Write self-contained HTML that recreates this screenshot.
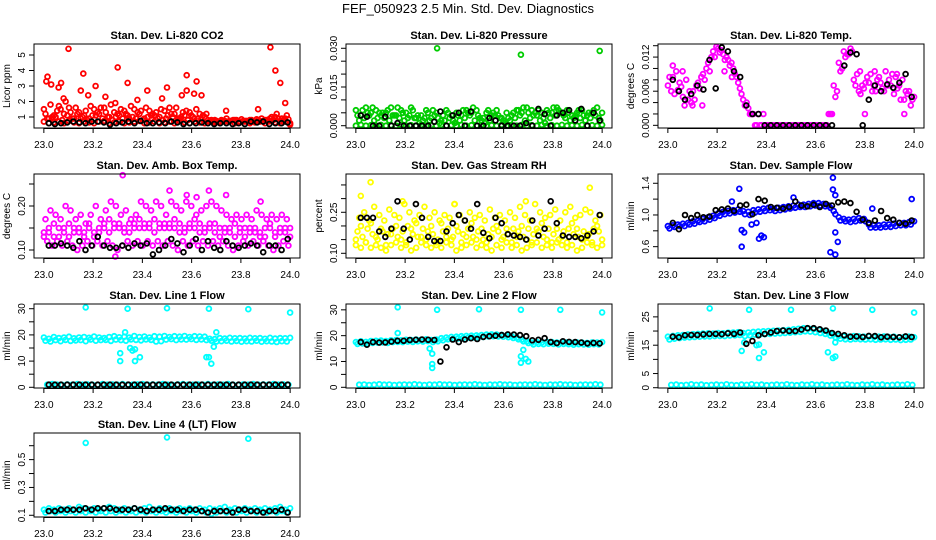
<!DOCTYPE html>
<html><head><meta charset="utf-8">
<style>
html,body{margin:0;padding:0;background:#fff;}
svg{display:block;font-family:"Liberation Sans",Arial,sans-serif;}
</style></head>
<body>
<svg id="chart" width="936" height="540" viewBox="0 0 936 540" xmlns="http://www.w3.org/2000/svg">
<rect x="0" y="0" width="936" height="540" fill="#fff"/>
<text x="468" y="13" text-anchor="middle" font-size="13">FEF_050923  2.5 Min. Std. Dev. Diagnostics</text>
</svg>
<script>
// ---- shared x tick data ----
const xTicks = [23.0, 23.2, 23.4, 23.6, 23.8, 24.0];
const xTickLabels = ["23.0", "23.2", "23.4", "23.6", "23.8", "24.0"];

// ---- Panel 1: CO2 ----
const co2Base = [0.7,0.6,0.65,0.7,0.6,0.75,0.65,0.6,0.7,0.65,0.6,0.7,0.75,0.6,0.65,0.7,0.6,0.65,0.7,0.75,0.6,0.65,0.7,0.6,0.65,0.7,0.6,0.75,0.65,0.6,0.7,0.65,0.6,0.7,0.65,0.6,0.7,0.75,0.6,0.65,0.7,0.6,0.65,0.7,0.6,0.75,0.65,0.6,0.7,0.5];
const co2Mid = [1.2,1.8,1.0,1.5,2.0,1.3,1.6,0.9,1.4,1.7,1.1,1.6,1.3,1.8,1.0,1.5,1.2,1.7,0.9,1.4,1.6,1.1,1.3,1.5,0.9,1.2,1.6,1.0,1.4,1.1,1.5,0.9,1.2,0.8,0.75,0.8,0.9,0.75,0.8,0.85,0.75,0.8,0.85,0.9,0.8,1.0,1.2,0.9,1.1,0.8];
const co2Mid2 = [0.9,1.0,1.4,0.8,1.1,0.9,1.2,1.0,0.8,1.1,1.3,0.9,1.0,0.8,1.2,0.9,1.1,1.0,1.3,0.8,1.0,1.2,0.9,0.8,1.1,1.0,0.9,1.3,0.8,1.0,0.9,1.1,0.8,0.7,0.7,0.75,0.7,0.8,0.7,0.75,0.7,0.7,0.8,0.75,0.7,0.8,0.9,0.8,0.85,0.7];
const co2Mid3 = [1.5,0.9,1.1,1.7,1.2,1.6,0.9,1.3,1.1,0.9,1.5,1.2,1.6,1.0,1.3,1.1,1.4,0.9,1.5,1.2,0.9,1.4,1.1,1.0,1.4,1.6,1.2,0.9,1.1,1.3,0.9,1.2,1.0,0.7,0.8,0.7,0.75,0.7,0.8,0.7,0.75,0.8,0.7,0.75,0.8,0.9,1.0,0.75,0.9,0.6];
const co2OutX = [23.10,23.01,23.015,23.03,23.07,23.06,23.16,23.15,23.30,23.21,23.34,23.25,23.42,23.50,23.58,23.62,23.58,23.61,23.64,23.56,23.92,23.94,23.96,23.98,23.87,23.74,23.48,23.38,23.08,23.18,23.29];
const co2OutY = [5.4,3.3,3.6,3.1,3.2,2.9,3.8,2.7,4.2,3.0,3.2,2.3,2.7,2.9,3.7,3.3,2.7,2.5,2.4,2.4,5.5,4.0,3.2,1.9,1.5,1.4,2.2,2.1,2.2,2.4,1.9];
const co2Black = [0.6,0.55,0.6,0.65,0.7,0.65,0.6,0.7,0.7,0.65,0.5,0.6,0.65,0.7,0.6,0.75,0.6,0.6,0.65,0.6,0.7,0.65,0.55,0.6,0.6,0.65,0.6,0.55,0.6,0.6,0.55,0.6,0.55,0.7,0.65,0.7,0.55,0.6,0.6,0.65];

// ---- Panel 2: Pressure ----
const presLow = [0,0.0003,0,0.0002,0,0.0003,0,0.0002,0,0.0003,0,0.0002,0,0.0003,0,0.0002,0,0.0003,0,0.0002,0,0.0003,0,0.0002,0,0.0003,0,0.0002,0,0.0003,0,0.0002,0,0.0003,0,0.0002,0,0.0003,0,0.0002,0,0.0003,0,0.0002,0,0.0003,0,0.0002,0,0.0003];
const presMid = [0.004,0.006,0.005,0.007,0.003,0.005,0.006,0.004,0.007,0.005,0.003,0.006,0.004,0.002,0.005,0.006,0.003,0.004,0.005,0.002,0.004,0.006,0.005,0.007,0.004,0.003,0.006,0.005,0.004,0.002,0.003,0.005,0.006,0.007,0.005,0.004,0.006,0.003,0.005,0.007,0.006,0.004,0.005,0.003,0.006,0.004,0.005,0.006,0.003,0.004];
const presMid2 = [0.002,0.003,0.004,0.002,0.005,0.003,0.002,0.004,0.003,0.002,0.004,0.003,0.001,0.003,0.002,0.004,0.001,0.002,0.003,0.001,0.002,0.003,0.004,0.002,0.003,0.001,0.002,0.004,0.003,0.001,0.002,0.003,0.004,0.002,0.003,0.005,0.002,0.001,0.003,0.004,0.005,0.003,0.002,0.004,0.003,0.002,0.003,0.004,0.002,0.003];
const presMid3 = [0.006,0.004,0.007,0.005,0.006,0.004,0.005,0.007,0.004,0.006,0.005,0.007,0.003,0.004,0.006,0.003,0.005,0.002,0.006,0.004,0.005,0.004,0.006,0.005,0.006,0.002,0.005,0.004,0.006,0.003,0.005,0.004,0.006,0.005,0.007,0.006,0.004,0.005,0.006,0.005,0.007,0.005,0.006,0.004,0.005,0.006,0.004,0.005,0.007,0.005];
const presOutX = [23.33,23.67,23.99];
const presOutY = [0.030,0.0275,0.029];
const presBlack = [0.004,0.0035,0,0,0.0035,0,0.001,0,0,0,0,0,0.0015,0.0055,0,0.004,0.005,0,0.0055,0,0,0.003,0.002,0,0,0,0,0.001,0,0.0065,0.0045,0,0.004,0.005,0.006,0.002,0.0065,0,0.005,0.002];

// ---- Panel 3: Li-820 Temp ----
const tempA = [0.0070,0.0085,0.0062,0.0050,0.0045,0.0060,0.0075,0.0090,0.0110,0.0130,0.0135,0.0125,0.0115,0.0100,0.0075,0.0045,0.0030,0.0020,0.0020,0.0020,0,0,0,0,0,0,0,0,0,0,0,0,0.0020,0.0070,0.0110,0.0130,0.0125,0.0080,0.0060,0.0065,0.0075,0.0070,0.0085,0.0060,0.0080,0.0055,0.0070,0.0045,0.0060,0.0050];
const tempB = [0.0085,0.0055,0.0075,0.0035,0.0060,0.0045,0.0065,0.0080,0.0095,0.0120,0.0128,0.0115,0.0105,0.0090,0.0065,0.0035,0.0020,0,0,0,0,0,0,0,0,0,0,0,0,0,0,0,0.0020,0.0050,0.0095,0.0120,0.0135,0.0070,0.0055,0.0075,0.0090,0.0060,0.0075,0.0095,0.0070,0.0085,0.0045,0.0060,0.0035,0.0075];
const tempC = [0.0060,0.0095,0.0068,0.0080,0.0040,0.0070,0.0085,0.0100,0.0120,0.0138,0.0132,0.0120,0.0110,0.0085,0.0055,0.0040,0.0020,0,0,0,0,0,0,0,0,0,0,0,0,0,0,0,0.0020,0.0060,0.0100,0.0125,0.0130,0.0090,0.0070,0.0085,0.0060,0.0080,0.0065,0.0070,0.0090,0.0065,0.0080,0.0055,0.0045,0.0065];
const tempOutX = [23.02,23.06,23.10,23.14,23.23,23.26,23.78,23.80,23.84,23.93,23.96];
const tempOutY = [0.0105,0.0095,0.0035,0.0035,0.0095,0.0085,0.0095,0.0020,0.0095,0.0090,0.0020];
const tempBlack = [0.0080,0.0060,0.0045,0.0055,0.0070,0.0063,0.0115,0.0065,0.0137,0.0130,0.0095,0.0085,0.0035,0.0020,0.0020,0,0,0,0,0,0,0,0,0,0,0,0,null,0.0105,0.0128,0.0125,0,0.0045,0.0070,0.0060,0.0072,0.0066,0.0075,0.0090,0.0050];

// ---- Panel 4: Amb Box Temp ----
const ambMain = [0.14,0.15,0.13,0.15,0.14,0.16,0.15,0.14,0.13,0.15,0.14,0.15,0.16,0.14,0.15,0.16,0.15,0.14,0.16,0.15,0.16,0.15,0.14,0.16,0.15,0.16,0.15,0.14,0.15,0.16,0.15,0.14,0.15,0.16,0.14,0.15,0.14,0.15,0.13,0.14,0.15,0.14,0.15,0.14,0.13,0.15,0.14,0.15,0.14,0.15];
const ambUp = [0.17,0.19,0.18,0.17,0.20,0.19,0.17,0.18,0.16,0.18,0.20,0.17,0.19,0.21,0.20,0.18,0.19,0.17,0.18,0.21,0.20,0.19,0.21,0.20,0.18,0.21,0.20,0.19,0.21,0.20,0.18,0.19,0.20,0.21,0.20,0.19,0.18,0.17,0.18,0.17,0.18,0.17,0.19,0.18,0.17,0.18,0.17,0.18,0.17,0.16];
const ambLow = [0.12,0.11,0.12,0.11,0.12,0.11,0.10,0.11,0.12,0.11,0.12,0.11,0.12,0.11,0.10,0.11,0.12,0.11,0.12,0.11,0.12,0.11,0.12,0.11,0.12,0.11,0.10,0.12,0.11,0.12,0.11,0.12,0.11,0.12,0.11,0.12,0.11,0.10,0.11,0.12,0.11,0.12,0.11,0.12,0.11,0.10,0.11,0.12,0.11,0.12];
const ambMid2 = [0.13,0.14,0.16,0.13,0.15,0.13,0.14,0.15,0.14,0.16,0.13,0.14,0.15,0.17,0.16,0.15,0.14,0.16,0.15,0.17,0.15,0.16,0.17,0.15,0.16,0.15,0.17,0.16,0.14,0.15,0.17,0.16,0.14,0.15,0.16,0.13,0.15,0.14,0.16,0.15,0.13,0.15,0.14,0.13,0.15,0.16,0.13,0.14,0.15,0.13];
const ambOutX = [23.32,23.51,23.67,23.58,23.74,23.29,23.62,23.88];
const ambOutY = [0.27,0.235,0.235,0.225,0.225,0.085,0.22,0.21];
const ambBlack = [0.11,0.11,0.115,0.11,0.105,0.12,0.10,0.11,0.13,0.11,0.105,0.105,0.11,0.105,0.115,0.11,0.115,0.09,0.10,0.11,0.125,0.115,0.095,0.11,0.125,0.10,0.12,0.105,0.10,0.12,0.11,0.105,0.11,0.115,0.11,0.095,0.11,0.11,0.10,0.125];

// ---- Panel 5: Gas Stream RH ----
const rhLow = [0.13,0.12,0.14,0.12,0.13,0.12,0.11,0.13,0.14,0.12,0.13,0.11,0.12,0.14,0.13,0.12,0.13,0.12,0.14,0.13,0.11,0.12,0.13,0.14,0.12,0.13,0.12,0.11,0.13,0.12,0.14,0.12,0.13,0.11,0.12,0.13,0.14,0.12,0.13,0.12,0.14,0.13,0.12,0.13,0.11,0.12,0.14,0.13,0.12,0.13];
const rhMid = [0.18,0.16,0.19,0.17,0.15,0.18,0.17,0.19,0.16,0.18,0.20,0.17,0.16,0.19,0.18,0.17,0.15,0.18,0.19,0.16,0.18,0.17,0.19,0.16,0.18,0.15,0.17,0.19,0.18,0.16,0.17,0.19,0.18,0.16,0.19,0.17,0.18,0.16,0.19,0.17,0.15,0.18,0.19,0.17,0.16,0.18,0.17,0.19,0.18,0.17];
const rhUp = [0.23,0.25,0.22,0.27,0.24,0.22,0.26,0.24,0.23,0.28,0.25,0.22,0.24,0.27,0.23,0.25,0.22,0.24,0.23,0.28,0.24,0.22,0.25,0.23,0.24,0.22,0.26,0.23,0.24,0.22,0.25,0.23,0.27,0.24,0.22,0.28,0.25,0.23,0.24,0.26,0.22,0.25,0.27,0.23,0.24,0.26,0.25,0.22,0.24,0.23];
const rhMid2 = [0.15,0.20,0.14,0.21,0.16,0.19,0.13,0.17,0.20,0.15,0.14,0.19,0.21,0.16,0.15,0.20,0.14,0.21,0.16,0.15,0.20,0.14,0.16,0.21,0.15,0.19,0.14,0.16,0.20,0.15,0.19,0.14,0.16,0.20,0.15,0.14,0.19,0.21,0.15,0.14,0.19,0.16,0.14,0.21,0.19,0.15,0.16,0.14,0.20,0.15];
const rhOutX = [23.06,23.95,23.02,23.69,23.19,23.40];
const rhOutY = [0.36,0.34,0.31,0.29,0.29,0.28];
const rhBlack = [0.23,0.23,0.23,0.18,0.16,0.19,0.29,0.19,0.15,0.28,0.23,0.16,0.145,0.145,0.18,0.21,0.24,0.22,0.19,0.28,0.175,0.155,0.23,0.21,0.17,0.165,0.16,0.15,0.22,0.165,0.19,0.29,0.21,0.165,0.16,0.16,0.155,0.165,0.18,0.24];

// ---- Panel 6: Sample Flow ----
const flowA = [0.86,0.87,0.88,0.89,0.90,0.92,0.93,0.95,0.97,0.99,1.02,1.04,1.05,1.06,1.07,1.05,1.04,1.06,1.07,1.08,1.09,1.08,1.09,1.10,1.11,1.12,1.13,1.13,1.14,1.15,1.15,1.14,1.12,1.05,0.97,0.95,0.94,0.95,0.96,0.95,0.88,0.87,0.87,0.88,0.88,0.89,0.90,0.90,0.91,0.92];
const flowB = [0.83,0.85,0.86,0.86,0.88,0.89,0.91,0.92,0.94,0.96,0.99,1.01,1.02,1.03,1.04,1.01,1.00,1.03,1.04,1.05,1.06,1.05,1.06,1.07,1.08,1.09,1.10,1.10,1.11,1.12,1.12,1.11,1.09,1.01,0.93,0.92,0.91,0.92,0.93,0.92,0.84,0.84,0.84,0.85,0.85,0.86,0.87,0.87,0.88,0.89];
const flowOutX = [23.29,23.30,23.31,23.30,23.38,23.37,23.39,23.67,23.67,23.68,23.68,23.69,23.66,23.68,23.99,23.34,23.36,23.26,23.51,23.83];
const flowOutY = [1.33,0.81,0.78,0.60,0.74,0.70,0.72,1.47,1.32,1.25,0.78,0.66,0.53,0.50,1.20,0.88,0.90,1.17,1.22,1.08];
const flowBlack = [0.90,0.82,1.00,0.96,1.00,0.97,0.98,1.06,1.07,1.08,1.05,1.12,1.13,1.01,1.20,1.18,1.10,1.09,1.08,1.10,1.17,1.12,1.11,1.13,1.10,1.14,1.12,1.16,1.17,1.15,1.04,0.94,0.90,0.93,1.05,0.96,0.94,0.90,0.89,0.93];

// ---- Panel 7: Line 1 Flow ----
const l1A = [19,18.5,19.2,18.8,19,19.3,18.7,19,19.2,18.9,19.4,19,18.8,19.2,19.5,19.1,19.3,19,19.6,19.2,19.4,19,19.5,19.3,19.6,19.2,19.5,19.3,19.6,19.2,19.5,19.4,19.3,18.5,18.4,18.8,18.6,18.9,18.7,18.8,18.6,18.9,18.7,18.8,18.5,18.9,18.6,18.8,18.7,18.9];
const l1B = [17.8,17.5,18,17.6,18.1,17.7,17.9,18,17.6,18.2,17.8,18,18.1,17.7,18.2,18,17.8,18.3,18.1,17.9,18.3,18.1,17.5,17.6,18.2,18.4,18,18.3,18.2,18.4,18.1,18.3,18,17.8,17.5,17.6,17.8,17.5,17.7,17.4,17.6,17.5,17.8,17.4,17.6,17.5,17.3,17.6,17.5,17.7];
const l1Low = [1,1.2,1,0.9,1.1,1,1.2,1,1.1,1,0.9,1.2,1,1.1,1,1.2,1,1,1.1,1.2,1,1.1,1,1.2,1,0.9,1.1,1.2,1,1,1.1,1,1.2,1,1.1,1,1.2,1,0.9,1.1,1,1.2,1,1.1,1,1.2,1,1.1,1,1.2];
const l1OutX = [23.17,23.34,23.50,23.67,23.83,24.0,23.31,23.31,23.35,23.36,23.37,23.37,23.39,23.66,23.67,23.68,23.70,23.69,23.33];
const l1OutY = [30.5,30,30.2,30,29.8,28.5,13,10,15,14,14.5,10,11.5,11.5,11.5,9,21,15.5,21];
const l1Black = [1,1,1,1,1,1,1,1,1,1,1,1,1,1,1,1,1,1,1,1,1,1,1,1,1,1,1,1,1,1,1,1,1,1,1,1,1,1,1,1];

// ---- Panel 8: Line 2 Flow ----
const l2A = [17.5,17.8,17.6,17.9,18,18.1,17.9,18.2,18.3,18.2,18.4,18.3,18.5,18.4,18.6,18.3,18.5,19,19.3,19.5,19.6,19.8,19.9,20,20.1,20.2,20.4,20.5,20.4,20.3,20.1,19.8,19.3,18.5,17.8,17.3,17.5,17.4,17.6,17.5,17.3,17.5,17.4,17.2,17.4,17.3,17.2,17.4,17.3,17.5];
const l2B = [16.8,17,16.9,17.2,17.3,17.4,17.2,17.5,17.6,17.5,17.7,17.6,17.8,17.7,17.9,17.5,17.8,18.2,18.6,18.8,18.9,19.1,19.2,19.3,19.4,19.5,19.7,19.8,19.7,19.6,19.4,19.1,18.6,17.8,17.1,16.6,16.8,16.7,16.9,16.8,16.6,16.8,16.7,16.5,16.7,16.6,16.5,16.7,16.6,16.8];
const l2Low = [1,1.1,0.9,1,1.2,1,1.1,0.9,1,1.1,1,1.2,1,0.9,1.1,1,1.2,1,1.1,0.9,1,1.1,1,1.2,1,0.9,1.1,1,1.2,1,1.1,0.9,1,1.1,1,1.2,1,0.9,1.1,1,1.2,1,1.1,0.9,1,1.1,1,1.2,1,0.9];
const l2OutX = [23.17,23.33,23.50,23.67,23.83,24.0,23.17,23.30,23.31,23.31,23.31,23.67,23.67,23.68,23.69,23.70];
const l2OutY = [31,30,30.2,30,30,29,21,15,13,9,7.5,12,9.5,14.5,11,10];
const l2Black = [17.5,16.5,17.5,17.3,17.4,17.7,18,18,18.3,18.4,18.5,18.4,18.3,10,15.5,18.5,17.5,18.5,19,18.7,19.5,19.8,20,20.2,20.5,20.4,20.2,19.8,18.2,18.4,19,17.5,17.1,17.8,17.6,17.5,17.3,17,17.2,17];

// ---- Panel 9: Line 3 Flow ----
const l3A = [18,18.3,18.5,18.6,18.8,18.9,19,19.1,19.2,19.1,19.3,19.2,19.4,19.5,19.6,19.3,19.5,19.7,19.8,19.9,20,20.1,20.2,20.3,20.4,20.6,20.8,21,20.9,20.7,20.4,20,19.4,18.8,18.3,18.1,18,18.2,18.1,18,18.1,17.9,18,18.1,17.9,18,17.8,17.9,18,17.8];
const l3B = [17,17.3,17.5,17.7,17.8,17.9,18,18.1,18.1,18.2,18.3,18.2,18.4,18.5,18.6,18.2,18.5,18.7,18.8,18.9,19,19.1,19.2,19.3,19.4,19.6,19.7,19.9,19.8,19.6,19.3,19,18.4,17.8,17.3,17.1,17,17.2,17.1,17,17.1,16.9,17,17.1,16.9,17,16.8,16.9,17,16.9];
const l3Low = [1,1.1,0.9,1,1.2,1,1.1,0.9,1,1.1,1,1.2,1,0.9,1.1,1,1.2,1,1.1,0.9,1,1.1,1,1.2,1,0.9,1.1,1,1.2,1,1.1,0.9,1,1.1,1,1.2,1,0.9,1.1,1,1.2,1,1.1,0.9,1,1.1,1,1.2,1,0.9];
const l3OutX = [23.17,23.33,23.50,23.67,23.83,24.0,23.30,23.31,23.36,23.37,23.39,23.65,23.67,23.68,23.68,23.37];
const l3OutY = [28,27.5,27.5,28,27.5,26.5,13,16,15,10.5,12.5,12.5,10.5,11,16,15.2];
const l3Black = [18,17.8,18.5,18.6,18.6,18.8,19,19,18.9,19.2,19,19.5,15.5,16.5,18.5,19,19.5,20,20.2,20,20,20.5,21,21,20.6,20.2,19.3,19,18.5,18,18.1,17.9,18.3,18.2,17.8,18,17.9,17.8,18.1,17.9];

// ---- Panel 10: Line 4 (LT) Flow ----
const l4A = [0.14,0.15,0.14,0.15,0.14,0.15,0.14,0.16,0.15,0.14,0.15,0.14,0.15,0.16,0.15,0.14,0.15,0.14,0.15,0.14,0.15,0.16,0.14,0.15,0.14,0.15,0.14,0.15,0.14,0.15,0.14,0.15,0.14,0.15,0.14,0.15,0.16,0.14,0.15,0.14,0.15,0.14,0.15,0.14,0.15,0.14,0.15,0.16,0.14,0.15];
const l4B = [0.12,0.13,0.12,0.13,0.12,0.13,0.12,0.13,0.12,0.13,0.12,0.13,0.12,0.13,0.12,0.13,0.12,0.13,0.12,0.13,0.12,0.13,0.12,0.13,0.12,0.13,0.12,0.13,0.12,0.13,0.12,0.13,0.12,0.11,0.12,0.13,0.12,0.13,0.12,0.13,0.12,0.13,0.12,0.13,0.12,0.13,0.12,0.13,0.12,0.13];
const l4OutX = [23.17,23.50,23.83];
const l4OutY = [0.62,0.66,0.65];
const l4Black = [0.13,0.13,0.14,0.14,0.14,0.14,0.15,0.14,0.15,0.15,0.15,0.14,0.14,0.14,0.15,0.14,0.13,0.14,0.14,0.15,0.14,0.14,0.13,0.14,0.14,0.13,0.12,0.13,0.13,0.13,0.12,0.14,0.14,0.13,0.13,0.12,0.13,0.13,0.14,0.12];

// ---- panel definitions ----
const SVGNS = "http://www.w3.org/2000/svg";
const svg = document.getElementById("chart");
const COLS = [34, 346, 658], ROWS = [44, 174, 304, 433], BW = 266, BH = 84;
const XMIN = 22.96, XMAX = 24.04;

const panels = [
 {name:"co2", title:"Stan. Dev. Li-820 CO2", ylab:"Licor ppm", c:0, r:0, ylim:[0.29,5.71], ticks:[1,2,3,4,5], labels:["1","2","3","4","5"], color:"#ff0000",
  series:[co2Base,co2Mid,co2Mid2,co2Mid3], outX:co2OutX, outY:co2OutY, black:co2Black},
 {name:"pressure", title:"Stan. Dev. Li-820 Pressure", ylab:"kPa", c:1, r:0, ylim:[-0.00089,0.03166], ticks:[0,0.005,0.01,0.015,0.02,0.025,0.03], labels:["0.000","","","0.015","","","0.030"], color:"#00cc00",
  series:[presLow,presMid,presMid2,presMid3], outX:presOutX, outY:presOutY, black:presBlack},
 {name:"temp", title:"Stan. Dev. Li-820 Temp.", ylab:"degrees C", c:2, r:0, ylim:[-0.00047,0.0143], ticks:[0,0.002,0.004,0.006,0.008,0.01,0.012,0.014], labels:["0.000","","","0.006","","","0.012",""], color:"#ff00ff",
  series:[tempA,tempB,tempC], outX:tempOutX, outY:tempOutY, black:tempBlack},
 {name:"amb-temp", title:"Stan. Dev. Amb. Box Temp.", ylab:"degrees C", c:0, r:1, ylim:[0.0818,0.2727], ticks:[0.1,0.15,0.2,0.25], labels:["0.10","","0.20",""], color:"#ff00ff",
  series:[ambMain,ambUp,ambLow,ambMid2], outX:ambOutX, outY:ambOutY, black:ambBlack},
 {name:"rh", title:"Stan. Dev. Gas Stream RH", ylab:"percent", c:1, r:1, ylim:[0.0828,0.39], ticks:[0.1,0.15,0.2,0.25,0.3,0.35], labels:["0.10","","","0.25","",""], color:"#ffff00",
  series:[rhLow,rhMid,rhUp,rhMid2], outX:rhOutX, outY:rhOutY, black:rhBlack},
 {name:"sample-flow", title:"Stan. Dev. Sample Flow", ylab:"ml/min", c:2, r:1, ylim:[0.457,1.517], ticks:[0.6,0.8,1.0,1.2,1.4], labels:["0.6","","1.0","","1.4"], color:"#0000ff",
  series:[flowA,flowB], outX:flowOutX, outY:flowOutY, black:flowBlack},
 {name:"line1", title:"Stan. Dev. Line 1 Flow", ylab:"ml/min", c:0, r:2, ylim:[-0.27,31.8], ticks:[0,5,10,15,20,25,30], labels:["0","","10","","20","","30"], color:"#00ffff",
  series:[l1A,l1B,l1Low], outX:l1OutX, outY:l1OutY, black:l1Black},
 {name:"line2", title:"Stan. Dev. Line 2 Flow", ylab:"ml/min", c:1, r:2, ylim:[-0.27,32.26], ticks:[0,5,10,15,20,25,30], labels:["0","","10","","20","","30"], color:"#00ffff",
  series:[l2A,l2B,l2Low], outX:l2OutX, outY:l2OutY, black:l2Black},
 {name:"line3", title:"Stan. Dev. Line 3 Flow", ylab:"ml/min", c:2, r:2, ylim:[-0.1,29.54], ticks:[0,5,10,15,20,25], labels:["0","5","","15","","25"], color:"#00ffff",
  series:[l3A,l3B,l3Low], outX:l3OutX, outY:l3OutY, black:l3Black},
 {name:"line4", title:"Stan. Dev. Line 4 (LT) Flow", ylab:"ml/min", c:0, r:3, ylim:[0.0876,0.6913], ticks:[0.1,0.2,0.3,0.4,0.5,0.6], labels:["0.1","","0.3","","0.5",""], color:"#00ffff",
  series:[l4A,l4B], outX:l4OutX, outY:l4OutY, black:l4Black}
];

function mk(tag, attrs, parent){
  const e = document.createElementNS(SVGNS, tag);
  for (const k in attrs) e.setAttribute(k, attrs[k]);
  parent.appendChild(e);
  return e;
}

panels.forEach(p => {
  const L = COLS[p.c], T = ROWS[p.r];
  const xs = v => L + (v - XMIN) / (XMAX - XMIN) * BW;
  const ys = v => T + BH - (v - p.ylim[0]) / (p.ylim[1] - p.ylim[0]) * BH;
  const g = mk("g", {}, svg);
  
  

  const title = mk("text", {x: L + BW/2, y: T - 5, "text-anchor":"middle", "font-size":"11", "font-weight":"bold"}, g);
  title.textContent = p.title;
  
  

  const yl = mk("text", {x: 0, y: 0, "text-anchor":"middle", "font-size":"10", transform:`translate(${L-24},${T+BH/2}) rotate(-90)`}, g);
  yl.textContent = p.ylab;
  
  

  const pts = mk("g", {fill:"none", "stroke-width":"1.8"}, g);
  
  
  p.series.forEach((arr, k) => {
    const shift = (k % 3) * 0.33;
    arr.forEach((v, i) => {
      if (v === null) return;
      const xv = 23 + (i + shift) / (arr.length - 1);
      if (xv > 24.0) return;
      const c = mk("circle", {cx: xs(xv).toFixed(1), cy: ys(v).toFixed(1), r: 2.4, stroke: p.color}, pts);
      
      
    });
  });
  p.outX.forEach((xv, i) => {
    const c = mk("circle", {cx: xs(xv).toFixed(1), cy: ys(p.outY[i]).toFixed(1), r: 2.4, stroke: p.color}, pts);
    
    
  });
  const bl = p.black;
  bl.forEach((v, i) => {
    if (v === null) return;
    const c = mk("circle", {cx: xs(23.02 + 0.97 * i/(bl.length-1)).toFixed(1), cy: ys(v).toFixed(1), r: 2.4, stroke: "#000"}, pts);
    
    
  });

  const box = mk("rect", {x: L, y: T, width: BW, height: BH, fill: "none", stroke: "#000", "stroke-width": "1"}, g);
  
  

  const xa = mk("g", {"font-size":"10"}, g);
  
  
  mk("line", {x1: xs(xTicks[0]), x2: xs(xTicks[xTicks.length-1]), y1: T+BH+0.5, y2: T+BH+0.5, stroke:"#000"}, xa);
  xTicks.forEach((t, i) => {
    mk("line", {x1: xs(t), x2: xs(t), y1: T+BH, y2: T+BH+5, stroke:"#000"}, xa);
    const tx = mk("text", {x: xs(t), y: T+BH+20, "text-anchor":"middle"}, xa);
    tx.textContent = xTickLabels[i];
    
    
  });

  const ya = mk("g", {"font-size":"10"}, g);
  
  
  p.ticks.forEach((t, i) => {
    mk("line", {x1: L-5, x2: L, y1: ys(t), y2: ys(t), stroke:"#000"}, ya);
    if (p.labels[i]) {
      const tx = mk("text", {x: 0, y: 0, "text-anchor":"middle", transform:`translate(${L-9},${ys(t)}) rotate(-90)`}, ya);
      tx.textContent = p.labels[i];
      
      
    }
  });
});
</script>
</body></html>
